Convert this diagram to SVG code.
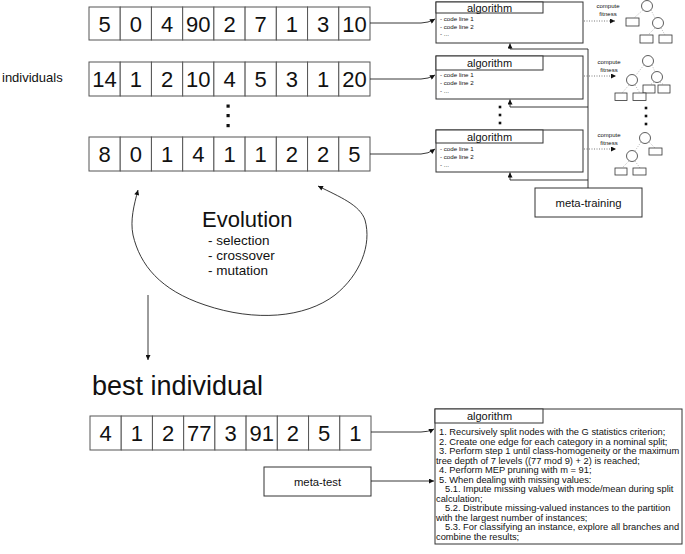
<svg xmlns="http://www.w3.org/2000/svg" width="685" height="554" viewBox="0 0 685 554">
<defs>
<style>
text{font-family:"Liberation Sans",Arial,sans-serif;fill:#111}
.cell{fill:#fff;stroke:#555;stroke-width:1}
.num{font-size:22px;text-anchor:middle}
.box{fill:#fff;stroke:#333;stroke-width:1}
.hdr{font-size:11px;text-anchor:middle}
.code{font-size:6.2px}
.cf{font-size:6px;text-anchor:middle}
.ln{fill:none;stroke:#222;stroke-width:0.9}
.dot{fill:none;stroke:#555;stroke-width:0.8;stroke-dasharray:1 1.5}
.edge{fill:none;stroke:#999;stroke-width:0.7;stroke-dasharray:1 1.5}
.nd{fill:#fff;stroke:#333;stroke-width:0.8}
.alg{font-size:9.3px}
.sq{fill:#111}
</style>
<marker id="ah" viewBox="0 0 10 10" refX="10" refY="5" markerWidth="6" markerHeight="5" markerUnits="userSpaceOnUse" orient="auto-start-reverse">
<path d="M0,0 L10,5 L0,10 z" fill="#111"/>
</marker>
</defs>

<text x="2" y="82" font-size="13px">individuals</text>

<g id="ind1">
<rect class="cell" x="89" y="7" width="31.22" height="33"/><rect class="cell" x="120.22" y="7" width="31.22" height="33"/><rect class="cell" x="151.44" y="7" width="31.22" height="33"/><rect class="cell" x="182.67" y="7" width="31.22" height="33"/><rect class="cell" x="213.89" y="7" width="31.22" height="33"/><rect class="cell" x="245.11" y="7" width="31.22" height="33"/><rect class="cell" x="276.33" y="7" width="31.22" height="33"/><rect class="cell" x="307.56" y="7" width="31.22" height="33"/><rect class="cell" x="338.78" y="7" width="31.22" height="33"/>
<text class="num" x="104.6" y="31.5">5</text><text class="num" x="135.8" y="31.5">0</text><text class="num" x="167" y="31.5">4</text><text class="num" x="198.3" y="31.5">90</text><text class="num" x="229.5" y="31.5">2</text><text class="num" x="260.7" y="31.5">7</text><text class="num" x="291.9" y="31.5">1</text><text class="num" x="323.1" y="31.5">3</text><text class="num" x="354.4" y="31.5">10</text>
</g>

<g id="ind2">
<rect class="cell" x="89" y="62" width="31.22" height="34"/><rect class="cell" x="120.22" y="62" width="31.22" height="34"/><rect class="cell" x="151.44" y="62" width="31.22" height="34"/><rect class="cell" x="182.67" y="62" width="31.22" height="34"/><rect class="cell" x="213.89" y="62" width="31.22" height="34"/><rect class="cell" x="245.11" y="62" width="31.22" height="34"/><rect class="cell" x="276.33" y="62" width="31.22" height="34"/><rect class="cell" x="307.56" y="62" width="31.22" height="34"/><rect class="cell" x="338.78" y="62" width="31.22" height="34"/>
<text class="num" x="104.6" y="87">14</text><text class="num" x="135.8" y="87">1</text><text class="num" x="167" y="87">2</text><text class="num" x="198.3" y="87">10</text><text class="num" x="229.5" y="87">4</text><text class="num" x="260.7" y="87">5</text><text class="num" x="291.9" y="87">3</text><text class="num" x="323.1" y="87">1</text><text class="num" x="354.4" y="87">20</text>
</g>

<g id="dots-ind">
<rect class="sq" x="226.5" y="104.5" width="3.2" height="3.2"/><rect class="sq" x="226.5" y="114" width="3.2" height="3.2"/><rect class="sq" x="226.5" y="124" width="3.2" height="3.2"/>
</g>

<g id="ind3">
<rect class="cell" x="89" y="137" width="31.22" height="34"/><rect class="cell" x="120.22" y="137" width="31.22" height="34"/><rect class="cell" x="151.44" y="137" width="31.22" height="34"/><rect class="cell" x="182.67" y="137" width="31.22" height="34"/><rect class="cell" x="213.89" y="137" width="31.22" height="34"/><rect class="cell" x="245.11" y="137" width="31.22" height="34"/><rect class="cell" x="276.33" y="137" width="31.22" height="34"/><rect class="cell" x="307.56" y="137" width="31.22" height="34"/><rect class="cell" x="338.78" y="137" width="31.22" height="34"/>
<text class="num" x="104.6" y="162">8</text><text class="num" x="135.8" y="162">0</text><text class="num" x="167" y="162">1</text><text class="num" x="198.3" y="162">4</text><text class="num" x="229.5" y="162">1</text><text class="num" x="260.7" y="162">1</text><text class="num" x="291.9" y="162">2</text><text class="num" x="323.1" y="162">2</text><text class="num" x="354.4" y="162">5</text>
</g>

<g id="alg1">
<rect class="box" x="436" y="2" width="147" height="41"/>
<rect class="box" x="436" y="2" width="107" height="11"/>
<text class="hdr" x="489.5" y="11.5">algorithm</text>
<text class="code" x="440" y="21">- code line 1</text>
<text class="code" x="440" y="29">- code line 2</text>
<text class="code" x="440" y="36">- ...</text>
</g>

<g id="alg2">
<rect class="box" x="436" y="56" width="147" height="43"/>
<rect class="box" x="436" y="56" width="107" height="14"/>
<text class="hdr" x="489.5" y="67">algorithm</text>
<text class="code" x="440" y="77">- code line 1</text>
<text class="code" x="440" y="85">- code line 2</text>
<text class="code" x="440" y="93">- ...</text>
</g>

<g id="dots-alg">
<rect class="sq" x="498.7" y="105.7" width="2.6" height="2.6"/><rect class="sq" x="498.7" y="113.7" width="2.6" height="2.6"/><rect class="sq" x="498.7" y="121.7" width="2.6" height="2.6"/>
</g>

<g id="alg3">
<rect class="box" x="436" y="130" width="147" height="42"/>
<rect class="box" x="436" y="130" width="107" height="13"/>
<text class="hdr" x="489.5" y="140.5">algorithm</text>
<text class="code" x="440" y="151">- code line 1</text>
<text class="code" x="440" y="159">- code line 2</text>
<text class="code" x="440" y="167">- ...</text>
</g>

<g id="meta-training">
<rect class="box" x="535" y="188" width="107" height="29"/>
<text x="588.5" y="207" font-size="11.3px" text-anchor="middle">meta-training</text>
</g>

<g id="tree1">
<text class="cf" x="608" y="8">compute</text>
<text class="cf" x="608" y="16">fitness</text>
<path class="edge" d="M643,10 L634,18 M651,10 L655,18 M655,28 L648,35 M661,28 L665,35"/>
<circle class="nd" cx="647" cy="6" r="5.5"/>
<rect class="nd" x="626" y="18" width="13" height="8"/>
<circle class="nd" cx="658" cy="23" r="5.5"/>
<rect class="nd" x="640" y="35" width="13" height="8"/>
<rect class="nd" x="659" y="35" width="13" height="8"/>
</g>

<g id="tree2">
<text class="cf" x="609" y="64">compute</text>
<text class="cf" x="609" y="72">fitness</text>
<path class="edge" d="M644,65 L636,75 M652,65 L655,72 M654,82 L650,85 M660,82 L664,85 M629,85 L622,93 M635,85 L640,93"/>
<circle class="nd" cx="648" cy="61" r="5.5"/>
<circle class="nd" cx="632" cy="80" r="5.5"/>
<circle class="nd" cx="657" cy="77" r="5.5"/>
<rect class="nd" x="643" y="85" width="12" height="8"/>
<rect class="nd" x="658" y="85" width="12" height="8"/>
<rect class="nd" x="615" y="93" width="12" height="7.5"/>
<rect class="nd" x="633" y="93" width="13" height="7.5"/>
</g>

<g id="dots-tree">
<rect class="sq" x="644.7" y="106.7" width="2.6" height="2.6"/><rect class="sq" x="644.7" y="114.7" width="2.6" height="2.6"/><rect class="sq" x="644.7" y="122.7" width="2.6" height="2.6"/>
</g>

<g id="tree3">
<text class="cf" x="609" y="137">compute</text>
<text class="cf" x="609" y="145">fitness</text>
<path class="edge" d="M649,142 L655,148 M641,142 L635,151 M629,161 L622,168 M635,161 L640,168"/>
<circle class="nd" cx="645" cy="138" r="5.5"/>
<rect class="nd" x="649" y="148" width="13" height="7"/>
<circle class="nd" cx="632" cy="156" r="5.5"/>
<rect class="nd" x="615" y="168" width="12" height="7"/>
<rect class="nd" x="633" y="168" width="13" height="7"/>
</g>

<g id="evolution">
<text x="202" y="227" font-size="22px">Evolution</text>
<text x="208" y="244.5" font-size="13.5px">- selection</text>
<text x="208" y="260" font-size="13.5px">- crossover</text>
<text x="208" y="275" font-size="13.5px">- mutation</text>
</g>

<text x="92" y="395" font-size="27px">best individual</text>

<g id="best">
<rect class="cell" x="90" y="416" width="31.22" height="34"/><rect class="cell" x="121.22" y="416" width="31.22" height="34"/><rect class="cell" x="152.44" y="416" width="31.22" height="34"/><rect class="cell" x="183.67" y="416" width="31.22" height="34"/><rect class="cell" x="214.89" y="416" width="31.22" height="34"/><rect class="cell" x="246.11" y="416" width="31.22" height="34"/><rect class="cell" x="277.33" y="416" width="31.22" height="34"/><rect class="cell" x="308.56" y="416" width="31.22" height="34"/><rect class="cell" x="339.78" y="416" width="31.22" height="34"/>
<text class="num" x="105.6" y="441">4</text><text class="num" x="136.8" y="441">1</text><text class="num" x="168" y="441">2</text><text class="num" x="199.3" y="441">77</text><text class="num" x="230.5" y="441">3</text><text class="num" x="261.7" y="441">91</text><text class="num" x="292.9" y="441">2</text><text class="num" x="324.1" y="441">5</text><text class="num" x="355.4" y="441">1</text>
</g>

<g id="meta-test">
<rect class="box" x="264" y="467" width="107" height="29"/>
<text x="317.5" y="486" font-size="11.3px" text-anchor="middle">meta-test</text>
</g>

<g id="alg-final">
<rect class="box" x="435" y="409" width="247" height="135"/>
<rect class="box" x="435" y="409" width="108" height="14"/>
<text class="hdr" x="489.5" y="420">algorithm</text>
<text class="alg" x="439" y="435">1. Recursively split nodes with the G statistics criterion;</text>
<text class="alg" x="439" y="444.5">2. Create one edge for each category in a nominal split;</text>
<text class="alg" x="439" y="454">3. Perform step 1 until class-homogeneity or the maximum</text>
<text class="alg" x="436" y="463.5">tree depth of 7 levels ((77 mod 9) + 2) is reached;</text>
<text class="alg" x="439" y="473">4. Perform MEP pruning with m = 91;</text>
<text class="alg" x="439" y="482.5">5. When dealing with missing values:</text>
<text class="alg" x="445" y="492">5.1. Impute missing values with mode/mean during split</text>
<text class="alg" x="436" y="501.5">calculation;</text>
<text class="alg" x="445" y="511">5.2. Distribute missing-valued instances to the partition</text>
<text class="alg" x="436" y="520.5">with the largest number of instances;</text>
<text class="alg" x="445" y="530">5.3. For classifying an instance, explore all branches and</text>
<text class="alg" x="436" y="539.5">combine the results;</text>
</g>

<g id="connectors">
<path class="ln" d="M370,23 L421,23 Q428,23 435,19" marker-end="url(#ah)"/>
<path class="ln" d="M370,79 L421,79 Q428,79 435,75" marker-end="url(#ah)"/>
<path class="ln" d="M370,154 L421,154 Q428,154 435,149" marker-end="url(#ah)"/>
<path class="ln" d="M371,432 L421,432 Q428,432 434,429" marker-end="url(#ah)"/>
<path class="ln" d="M371,481 L434,481" marker-end="url(#ah)"/>
<path class="ln" d="M588,188 L588,49"/>
<path class="ln" d="M588,49 L510,49 L510,43.5" marker-end="url(#ah)"/>
<path class="ln" d="M588,107 L510,107 L510,99.5" marker-end="url(#ah)"/>
<path class="ln" d="M588,180 L510,180 L510,172.5" marker-end="url(#ah)"/>
<path class="dot" d="M584,21 L615,21" marker-end="url(#ah)"/>
<path class="dot" d="M584,76 L616,76" marker-end="url(#ah)"/>
<path class="dot" d="M584,149 L616,149" marker-end="url(#ah)"/>
<path class="ln" d="M318,186 C340,197 360,205 365,220 C372,245 360,275 335,295 C305,318 255,322 205,305 C160,290 140,265 133,235 C130,220 134,205 138,190" marker-start="url(#ah)" marker-end="url(#ah)"/>
<path class="ln" d="M148,295 L148,360" marker-end="url(#ah)"/>
</g>
</svg>
